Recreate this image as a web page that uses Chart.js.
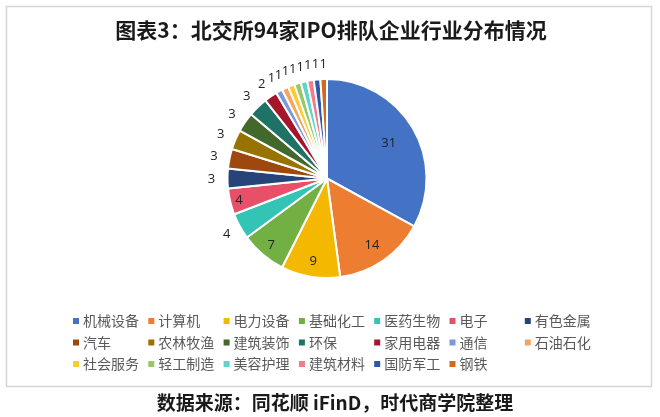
<!DOCTYPE html>
<html>
<head>
<meta charset="utf-8">
<script src="https://cdn.jsdelivr.net/npm/chart.js@4.4.6/dist/chart.umd.js"></script>
<style>
  html, body { margin: 0; padding: 0; background: #fff; }
  #wrap { width: 660px; height: 417px; position: relative; }
</style>
</head>
<body>
<div id="wrap"><canvas id="myChart" width="660" height="417"></canvas></div>
<script>
// data
const categories = ['机械设备', '计算机', '电力设备', '基础化工', '医药生物', '电子', '有色金属',
  '汽车', '农林牧渔', '建筑装饰', '环保', '家用电器', '通信', '石油石化',
  '社会服务', '轻工制造', '美容护理', '建筑材料', '国防军工', '钢铁'];
const counts = [31, 14, 9, 7, 4, 4, 3, 3, 3, 3, 3, 2, 1, 1, 1, 1, 1, 1, 1, 1];
const titleText = '图表3：北交所94家IPO排队企业行业分布情况';
const sourceText = '数据来源：同花顺 iFinD，时代商学院整理';

const colors = ['#4472C4', '#ED7D31', '#F5B800', '#72B043', '#33C4B5', '#E8506A', '#264478',
  '#9E480E', '#997300', '#43682B', '#1E7366', '#A5162B', '#7C9AD8', '#F4A460',
  '#FFCB33', '#98C76A', '#5ED5C8', '#F07C8C', '#2F58A8', '#D2691E'];

// where each value label sits, as a fraction of the radius
const labelR = [0.72, 0.8, 0.83, 0.87, 1.15, 0.91];

const CJK = '"Noto Sans CJK SC", "Noto Sans", sans-serif';

// frame, title, value labels, legend grid, source line
const decor = {
  id: 'decor',
  beforeDraw(chart) {
    const c = chart.ctx;
    c.save();
    c.fillStyle = '#fff';
    c.fillRect(0, 0, chart.width, chart.height);
    c.strokeStyle = '#D6D6D6';
    c.lineWidth = 1.5;
    c.strokeRect(6.5, 6.5, 645, 380);
    c.restore();
  },
  afterDraw(chart) {
    const c = chart.ctx;
    c.save();
    c.textAlign = 'center';
    c.textBaseline = 'middle';
    c.fillStyle = '#1a1a1a';
    c.font = 'bold 21px ' + CJK;
    c.fillText(titleText, 331, 30);

    // value labels
    const arcs = chart.getDatasetMeta(0).data;
    c.font = '13px "Open Sans", sans-serif';
    c.fillStyle = '#222';
    arcs.forEach((a, i) => {
      const mid = (a.startAngle + a.endAngle) / 2;
      const f = i < labelR.length ? labelR[i] : 1.16;
      const r = a.outerRadius * f;
      c.fillText(String(counts[i]), a.x + r * Math.cos(mid), a.y + r * Math.sin(mid) + 1);
    });

    // legend
    c.textAlign = 'left';
    c.font = '14px ' + CJK;
    categories.forEach((name, i) => {
      const row = Math.floor(i / 7), col = i % 7;
      const x = 73 + col * 75.3, y = 321 + row * 21.5;
      c.fillStyle = colors[i];
      c.fillRect(x, y - 3, 6, 6);
      c.fillStyle = '#595959';
      c.fillText(name, x + 10, y);
    });

    c.textAlign = 'center';
    c.fillStyle = '#1a1a1a';
    c.font = 'bold 19px ' + CJK;
    c.fillText(sourceText, 335, 403);
    c.restore();
  }
};

const ctx = document.getElementById('myChart').getContext('2d');
const myPie = new Chart(ctx, {
  type: 'pie',
  data: {
    labels: categories,
    datasets: [{
      data: counts,
      backgroundColor: colors,
      borderColor: '#ffffff',
      borderWidth: 2
    }]
  },
  options: {
    responsive: false,
    animation: false,
    layout: { padding: { top: 78, bottom: 138, left: 98, right: 104 } },
    plugins: {
      legend: { display: false },
      title: { display: false },
      tooltip: { enabled: false }
    }
  },
  plugins: [decor]
});
</script>
</body>
</html>
